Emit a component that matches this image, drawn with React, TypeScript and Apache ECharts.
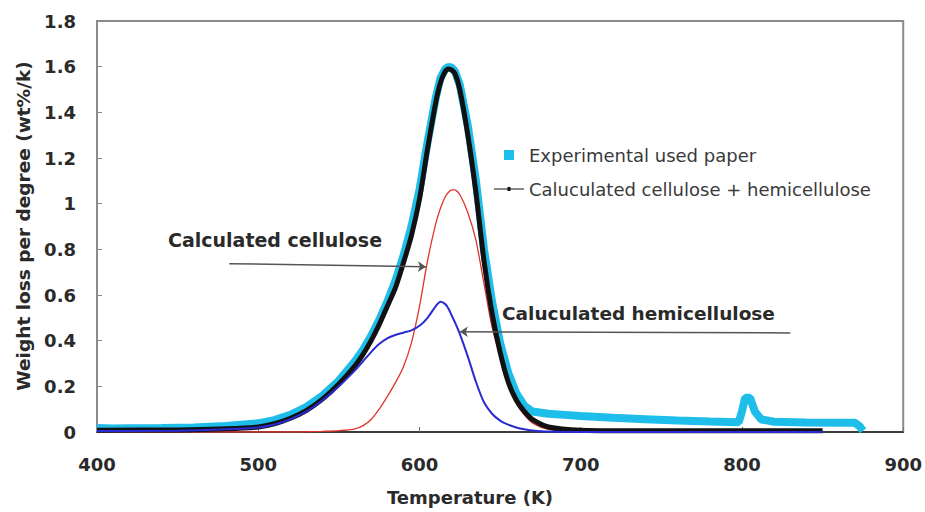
import React, { useEffect, useRef } from "react";
import * as echarts from "echarts";

const FONT = "'DejaVu Sans', 'Liberation Sans', sans-serif";

// Temperature axis ticks (K) and weight-loss ticks (wt%/K)
const tempTicks = { min: 400, max: 900, step: 100 };
const lossTicks = { min: 0, max: 1.8, step: 0.2 };

// Measured DTG of used paper
const expTemp = [
  400, 410, 420, 440, 460, 480, 500, 510, 520, 530, 540, 550, 560, 565, 570, 575, 580, 585,
  590, 595, 600, 605, 610, 613, 616, 618, 620, 622, 625, 630, 635, 640, 645, 650, 655, 660,
  665, 670, 680, 690, 700, 720, 740, 760, 780, 798, 800, 802, 805, 808, 812, 820, 840, 860,
  870, 873, 875,
];
const expLoss = [
  0.018, 0.015, 0.016, 0.017, 0.02, 0.026, 0.038, 0.052, 0.075, 0.11, 0.16, 0.225, 0.31, 0.36,
  0.42, 0.49, 0.57, 0.66, 0.77, 0.9, 1.06, 1.27, 1.46, 1.55, 1.59, 1.6, 1.595, 1.58, 1.52,
  1.34, 1.1, 0.8, 0.57, 0.39, 0.26, 0.17, 0.115, 0.09, 0.08, 0.075, 0.07, 0.062, 0.056, 0.05,
  0.046, 0.043, 0.09, 0.15, 0.15, 0.09, 0.055, 0.045, 0.042, 0.04, 0.04, 0.025, 0.005,
];

// Model curves share one temperature grid
const calcTemp = [
  400, 450, 480, 500, 510, 520, 530, 540, 550, 560, 565, 570, 575, 580, 585, 590, 595, 600,
  605, 610, 613, 616, 618, 620, 622, 625, 630, 635, 640, 645, 650, 655, 660, 665, 670, 680,
  700, 750, 800, 850,
];
const celluloseLoss = [
  0, 0, 0, 0, 0, 0, 0.001, 0.003, 0.006, 0.014, 0.028, 0.055, 0.1, 0.155, 0.215, 0.285, 0.39,
  0.55, 0.75, 0.91, 0.98, 1.03, 1.05, 1.06, 1.06, 1.04, 0.96, 0.84, 0.65, 0.46, 0.33, 0.205,
  0.125, 0.075, 0.04, 0.012, 0.001, 0, 0, 0,
];
const hemicelluloseLoss = [
  0.004, 0.006, 0.012, 0.02, 0.033, 0.056, 0.09, 0.14, 0.2, 0.27, 0.31, 0.35, 0.385, 0.41,
  0.425, 0.435, 0.445, 0.465, 0.5, 0.55, 0.57, 0.56, 0.54, 0.51, 0.48, 0.43, 0.33, 0.22, 0.13,
  0.08, 0.05, 0.032, 0.02, 0.012, 0.007, 0.002, 0, 0, 0, 0,
];
const sumLoss = [
  0.008, 0.009, 0.014, 0.022, 0.036, 0.06, 0.095, 0.145, 0.21, 0.29, 0.34, 0.4, 0.47, 0.55,
  0.63, 0.74, 0.86, 1.02, 1.24, 1.44, 1.53, 1.58, 1.59, 1.585, 1.57, 1.5, 1.3, 1.05, 0.75,
  0.52, 0.35, 0.22, 0.14, 0.09, 0.055, 0.022, 0.008, 0.005, 0.005, 0.005,
];

// Callout lines: [fromTemp, fromLoss, toTemp, toLoss]
const celluloseCallout = [482, 0.737, 604, 0.724];
const hemicelluloseCallout = [830, 0.434, 625, 0.439];

const seriesNames = {
  exp: "Experimental used paper",
  sum: "Caluculated cellulose + hemicellulose",
  cel: "Calculated cellulose",
  hem: "Caluculated hemicellulose",
};

const pairs = (xs: number[], ys: number[]) => xs.map((x, i) => [x, ys[i]]);

const calloutLine = (c: number[]) => ({
  silent: true,
  animation: false,
  symbol: ["none", "arrow"],
  symbolSize: 8,
  label: { show: false },
  lineStyle: { color: "#555", width: 1.5, type: "solid" },
  emphasis: { disabled: true },
  data: [[{ coord: [c[0], c[1]] }, { coord: [c[2], c[3]] }]],
});

export default function App() {
  const ref = useRef<HTMLDivElement>(null);

  useEffect(() => {
    if (!ref.current) return;
    const chart = echarts.init(ref.current, undefined, { renderer: "svg" });
    const tickLabel = {
      fontFamily: FONT,
      fontWeight: "bold",
      fontSize: 18,
      color: "#2a2a2a",
    };
    chart.setOption({
      animation: false,
      backgroundColor: "#ffffff",
      grid: {
        left: 97,
        right: 20,
        top: 21,
        bottom: 80,
        show: true,
        borderColor: "#8c8c8c",
        borderWidth: 2,
      },
      xAxis: {
        type: "value",
        min: tempTicks.min,
        max: tempTicks.max,
        interval: tempTicks.step,
        axisLine: { lineStyle: { color: "#222", width: 1.5 } },
        axisTick: { inside: true, length: 5, lineStyle: { color: "#777" } },
        axisLabel: { ...tickLabel, margin: 23 },
        splitLine: { show: false },
      },
      yAxis: {
        type: "value",
        min: lossTicks.min,
        max: lossTicks.max,
        interval: lossTicks.step,
        axisLine: { show: true, lineStyle: { color: "#8c8c8c", width: 2 } },
        axisTick: { show: true, inside: true, length: 5, lineStyle: { color: "#888" } },
        axisLabel: { ...tickLabel, margin: 21 },
        splitLine: { show: false },
      },
      legend: {
        orient: "vertical",
        left: 489,
        top: 141,
        itemWidth: 30,
        itemHeight: 10,
        itemGap: 16,
        symbolKeepAspect: true,
        textStyle: { fontFamily: FONT, fontSize: 18, color: "#3a3a3a" },
        data: [
          { name: seriesNames.exp, icon: "path://M0,0h9v9h-9z" },
          { name: seriesNames.sum, icon: "path://M0,4.4h30v1.2h-30zM13.5,3h3v4h-3z" },
        ],
      },
      series: [
        {
          name: seriesNames.exp,
          type: "line",
          data: pairs(expTemp, expLoss),
          showSymbol: false,
          color: "#1fbdea",
          lineStyle: { color: "#1fbdea", width: 8 },
          z: 1,
        },
        {
          name: seriesNames.cel,
          type: "line",
          data: pairs(calcTemp, celluloseLoss),
          showSymbol: false,
          smooth: 0.25,
          color: "#e0332c",
          lineStyle: { color: "#e0332c", width: 1.3 },
          markLine: calloutLine(celluloseCallout),
          z: 2,
        },
        {
          name: seriesNames.sum,
          type: "line",
          data: pairs(calcTemp, sumLoss),
          showSymbol: false,
          smooth: 0.25,
          color: "#111111",
          lineStyle: { color: "#111111", width: 5 },
          z: 3,
        },
        {
          name: seriesNames.hem,
          type: "line",
          data: pairs(calcTemp, hemicelluloseLoss),
          showSymbol: false,
          smooth: 0.25,
          color: "#2a2ad2",
          lineStyle: { color: "#2a2ad2", width: 2 },
          markLine: calloutLine(hemicelluloseCallout),
          z: 4,
        },
      ],
      graphic: [
        {
          type: "text",
          left: 168,
          top: 230,
          silent: true,
          style: {
            text: seriesNames.cel,
            fontFamily: FONT,
            fontWeight: "bold",
            fontSize: 19,
            fill: "#2a2a2a",
          },
        },
        {
          type: "text",
          left: 502,
          top: 304,
          silent: true,
          style: {
            text: seriesNames.hem,
            fontFamily: FONT,
            fontWeight: "bold",
            fontSize: 18.5,
            fill: "#2a2a2a",
          },
        },
        {
          type: "text",
          x: 470,
          y: 497,
          silent: true,
          style: {
            text: "Temperature (K)",
            fontFamily: FONT,
            fontWeight: "bold",
            fontSize: 18,
            fill: "#2a2a2a",
            align: "center",
            verticalAlign: "middle",
          },
        },
        {
          type: "text",
          x: 23,
          y: 226,
          rotation: Math.PI / 2,
          silent: true,
          style: {
            text: "Weight loss per degree (wt%/k)",
            fontFamily: FONT,
            fontWeight: "bold",
            fontSize: 18.5,
            fill: "#2a2a2a",
            align: "center",
            verticalAlign: "middle",
          },
        },
      ],
    });
    return () => chart.dispose();
  }, []);

  return (
    <div
      ref={ref}
      style={{ position: "absolute", left: 0, top: 0, width: 925, height: 512 }}
    />
  );
}
